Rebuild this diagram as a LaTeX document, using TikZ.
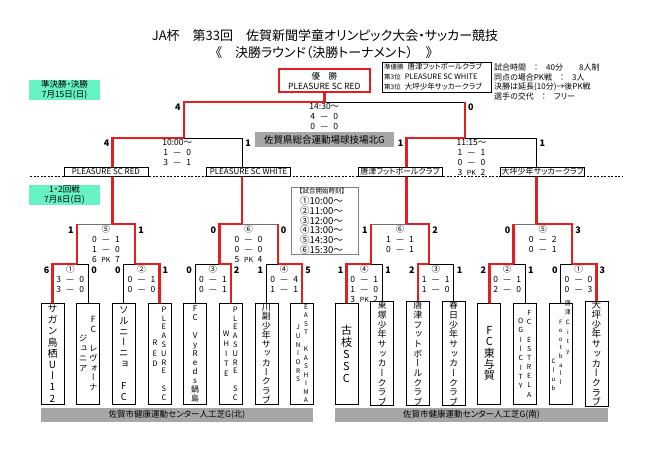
\documentclass[tikz,border=0pt]{standalone}
\usepackage{fontspec}
\setmainfont{Noto Sans CJK JP}[RawFeature=+palt]
\newfontfamily\tatefont{Noto Sans CJK JP}[RawFeature=+vert]

\definecolor{winred}{RGB}{226,30,30}
\definecolor{mint}{RGB}{102,242,196}
\definecolor{venuegray}{RGB}{166,166,166}

\newcommand\fsz[1]{\fontsize{#1}{#1}\selectfont}
\newcommand\mres[3]{\makebox[14pt]{#1}\makebox[9pt]{#2}\makebox[14pt]{#3}}
% one column of upright characters, fixed pitch
\makeatletter
\newcommand\tate[2][9]{$\vcenter{\tatefont\baselineskip=#1pt\lineskiplimit=-\maxdimen\lineskip=0pt
  \@tfor\tate@c:=#2\do{\hbox to 1.2em{\hss\tate@c\hss}}}$}
\makeatother

\begin{document}
\begin{tikzpicture}[x=1pt,y=-1pt,
    win/.style={winred,line width=2.4pt},
    lose/.style={black,line width=0.8pt},
    lose2/.style={black!55,line width=0.8pt},
    team/.style={draw,line width=0.8pt,minimum width=23pt,minimum height=101pt,inner sep=0pt},
    semi/.style={draw,fill=white,line width=0.8pt,minimum width=84pt,minimum height=9.5pt,inner sep=0pt,font=\fsz{8}},
    score/.style={anchor=north,align=center,inner sep=0pt,font=\fontsize{8.5}{10}\selectfont},
    lft/.style={anchor=east,inner sep=0pt,font=\bfseries\fsz{9}},
    rgt/.style={anchor=west,inner sep=0pt,font=\bfseries\fsz{9}},
    venuebar/.style={fill=venuegray,minimum height=14pt,inner sep=0pt,font=\fsz{8.5}},
    day/.style={fill=mint,minimum width=71pt,minimum height=20pt,inner sep=0pt,align=center,font=\fontsize{8.5}{10}\selectfont}]
    \useasboundingbox (0,0) rectangle (650,459);

    % headings
    \node[font=\fsz{13}] (title) at (325,36) {JA杯　第33回　佐賀新聞学童オリンピック大会・サッカー競技};
    \node[font=\fsz{13}] (subtitle) at (324,53) {《　決勝ラウンド（決勝トーナメント）　》};
    \node[draw,line width=0.8pt,minimum width=109pt,minimum height=30pt,inner sep=0pt] (info) at (436.5,77) {};
    \node[anchor=west,inner sep=0pt,font=\fsz{7.5}] (rank2) at (384,67) {{\fsz{6.5}準優勝}\hspace{4pt}唐津フットボールクラブ};
    \node[anchor=west,inner sep=0pt,font=\fsz{7.5}] (rank3a) at (384,77) {{\fsz{6.5}第3位}\hspace{4pt}PLEASURE SC WHITE};
    \node[anchor=west,inner sep=0pt,font=\fsz{7.5}] (rank3b) at (384,87) {{\fsz{6.5}第3位}\hspace{4pt}大坪少年サッカークラブ};
    \node[anchor=west,inner sep=0pt,font=\fsz{8}] (rule1) at (494,67) {試合時間　：　40分　　8人制};
    \node[anchor=west,inner sep=0pt,font=\fsz{8}] (rule2) at (494,77) {同点の場合PK戦　：　3人};
    \node[anchor=west,inner sep=0pt,font=\fsz{8}] (rule3) at (494,87) {決勝は延長(10分)→後PK戦};
    \node[anchor=west,inner sep=0pt,font=\fsz{8}] (rule4) at (494,96.5) {選手の交代　：　フリー};
    \node[day] (day1) at (64.5,90) {準決勝・決勝\\7月15日(日)};
    \node[day] (day2) at (64.5,195) {1・2回戦\\7月8日(日)};
    \node[draw=winred,line width=2pt,minimum width=91pt,minimum height=23pt,align=center,inner sep=0pt,
        font=\fontsize{8.5}{10}\selectfont] (champ) at (324.35,80.5) {優　勝\\PLEASURE SC RED};

    % venues and start times
    \node[venuebar,minimum width=139pt,minimum height=15pt,font=\fsz{9.5}] (vfinal) at (324.5,139.5) {佐賀県総合運動場球技場北G};
    \node[venuebar,minimum width=272pt] (vnorth) at (177,415) {佐賀市健康運動センター人工芝G(北)};
    \node[venuebar,minimum width=273pt] (vsouth) at (471.5,415) {佐賀市健康運動センター人工芝G(南)};
    \node[draw=black!50,line width=0.6pt,minimum width=67pt,minimum height=67pt,inner sep=0pt] (times) at (324.5,220.5) {};
    \node[font=\fsz{6.5},inner sep=0pt] (timeshd) at (322,191.5) {【試合開始時刻】};
    \foreach \n/\t [count=\k] in {①/10:00,②/11:00,③/12:00,④/13:00,⑤/14:30,⑥/15:30}
        \node[anchor=west,inner sep=0pt,font=\fsz{9.5}] (tm\k) at (300,191+9.8*\k) {\n\t～};

    \draw[dashed,dash pattern=on 2pt off 1.5pt,line width=0.6pt] (30,176.5) -- (622,176.5);

    % semifinal teams
    \node[semi] (s1) at (105.95,171.75) {PLEASURE SC RED};
    \node[semi] (s2) at (248.55,171.75) {PLEASURE SC WHITE};
    \node[semi] (s3) at (400.05,171.75) {唐津フットボールクラブ};
    \node[semi] (s4) at (542.85,171.75) {大坪少年サッカークラブ};

    % first round teams
    \node[team,font=\fsz{10}] (t1) at (52.5,353.5) {\tate[11.2]{サガン鳥栖Uー12}};
    \node[team,font=\fsz{8.5}] (t2) at (88.15,353.5) {\tate[10]{ジュニア}\tate[9.7]{FC~レヴォーナ}};
    \node[team,font=\fsz{9.5}] (t3) at (123.8,353.5) {\tate[10.9]{ソルニーニョ~FC}};
    \node[team,font=\fsz{7.5}] (t4) at (159.45,353.5) {\tate[10.5]{RED}\tate[8.8]{PLEASURE~SC}};
    \node[team,font=\fsz{8}] (t5) at (195.1,353.5) {\tate[9]{FC~VyReds鍋島}};
    \node[team,font=\fsz{7.5}] (t6) at (230.75,353.5) {\tate[10]{WHITE}\tate[8.8]{PLEASURE~SC}};
    \node[team,font=\fsz{9}] (t7) at (266.4,353.5) {\tate[9.3]{川副少年サッカークラブ}};
    \node[team,font=\fsz{6.5}] (t8) at (302.05,353.5) {\tate[8.7]{JUNIORS}\tate[8.5]{EAST~KASHIMA}};
    \node[team,font=\fsz{11}] (t9) at (346.5,353.5) {\tate[12]{古枝SSC}};
    \node[team,font=\fsz{9}] (t10) at (382.2,353.5) {\tate[9.7]{東塚少年サッカークラブ}};
    \node[team,font=\fsz{9}] (t11) at (417.9,353.5) {\tate[9.7]{唐津フットボールクラブ}};
    \node[team,font=\fsz{9}] (t12) at (453.6,353.5) {\tate[9.7]{春日少年サッカークラブ}};
    \node[team,font=\fsz{11}] (t13) at (489.3,353.5) {\tate[11.2]{FC東与賀}};
    \node[team,font=\fsz{7}] (t14) at (525,353.5) {\tate[9.3]{OGIーCITY}\tate[9.1]{FC~ESTRELA}};
    \node[team,font=\fsz{6}] (t15) at (560.7,353.5) {\smash{\raisebox{-23pt}{\tate[9]{Club}}\tate[8.6]{Football}\raisebox{24.5pt}{\tate[9.6]{唐津City}}}};
    \node[team,font=\fsz{9.5}] (t16) at (596.4,353.5) {\tate[9.7]{大坪少年サッカークラブ}};

    % bracket points
    \coordinate (a1) at (76.8,264);   \coordinate (a2) at (135.1,264);
    \coordinate (a3) at (219.4,264);  \coordinate (a4) at (277.7,264);
    \coordinate (a5) at (370.85,264); \coordinate (a6) at (429.25,264);
    \coordinate (a7) at (513.65,264); \coordinate (a8) at (572.05,264);
    \coordinate (b1) at (112.45,224); \coordinate (b2) at (242.05,224);
    \coordinate (b3) at (406.55,224); \coordinate (b4) at (536.35,224);
    \coordinate (c1) at (183.75,138); \coordinate (c2) at (464.95,138);
    \coordinate (d) at (324.35,102);

    % round 1
    \foreach \w/\l/\m in {1/2/a1,4/3/a2,6/5/a3,8/7/a4,9/10/a5,11/12/a6,13/14/a7,16/15/a8}{
        \draw[lose] (t\l.north) |- (\m);
        \draw[win] (t\w.north) |- (\m);
    }
    % round 2
    \foreach \w/\l/\m in {a2/a1/b1,a3/a4/b2,a6/a5/b3,a8/a7/b4}{
        \draw[lose2] (\l |- \m) -- (\m);
        \draw[win] (\l) -- (\l |- \m);
        \draw[win] (\w) |- (\m);
    }
    % semifinals
    \draw[win] (b1) -- (b1 |- s1.south);
    \draw[win] (b2) -- (b2 |- s2.south);
    \draw[win] (b3) -- (b3 |- s3.south);
    \draw[win] (b4) -- (b4 |- s4.south);
    \draw[lose] (b2 |- s2.north) |- (c1);
    \draw[win] (b1 |- s1.north) |- (c1);
    \draw[lose] (b4 |- s4.north) |- (c2);
    \draw[win] (b3 |- s3.north) |- (c2);
    % final
    \draw[lose] (c2 |- d) -- (d);
    \draw[win] (c2) -- (c2 |- d);
    \draw[win] (c1) |- (d) -- (champ.south);

    % results
    \node[score] (m1) at (70.3,265.5) {①\\\mres{3}{—}{0}\\\mres{3}{—}{0}};
    \node[score] (m2) at (141.6,265.5) {②\\\mres{0}{—}{1}\\\mres{0}{—}{0}};
    \node[score] (m3) at (212.9,265.5) {③\\\mres{0}{—}{1}\\\mres{0}{—}{1}};
    \node[score] (m4) at (284.2,265.5) {④\\\mres{0}{—}{4}\\\mres{1}{—}{1}};
    \node[score] (m5) at (364.35,265.5) {④\\\mres{0}{—}{1}\\\mres{1}{—}{0}\\\mres{3}{\fsz{7}PK}{2}};
    \node[score] (m6) at (435.75,265.5) {③\\\mres{1}{—}{1}\\\mres{1}{—}{0}};
    \node[score] (m7) at (507.15,265.5) {②\\\mres{0}{—}{1}\\\mres{2}{—}{0}};
    \node[score] (m8) at (578.55,265.5) {①\\\mres{0}{—}{0}\\\mres{0}{—}{3}};
    \node[score] (m9) at (105.95,225.5) {⑤\\\mres{0}{—}{1}\\\mres{1}{—}{0}\\\mres{6}{\fsz{7}PK}{7}};
    \node[score] (m10) at (248.55,225.5) {⑥\\\mres{0}{—}{0}\\\mres{0}{—}{0}\\\mres{5}{\fsz{7}PK}{4}};
    \node[score] (m11) at (400.05,225.5) {⑥\\\mres{1}{—}{1}\\\mres{0}{—}{1}};
    \node[score] (m12) at (542.85,225.5) {⑤\\\mres{0}{—}{2}\\\mres{0}{—}{1}};
    \node[score] (m13) at (177.25,139) {10:00～\\\mres{1}{—}{0}\\\mres{3}{—}{1}};
    \node[score] (m14) at (471.45,139) {11:15～\\\mres{1}{—}{1}\\\mres{0}{—}{0}\\\mres{3}{\fsz{7}PK}{2}};
    \node[score] (m15) at (324.35,103.5) {14:30～\\\mres{4}{—}{0}\\\mres{0}{—}{0}};

    % goals beside each line
    \foreach \x/\v [count=\k] in {52.5/6,123.8/0,195.1/0,266.4/1,346.5/1,417.9/2,489.3/2,560.7/0}
        \node[lft] (pl\k) at (\x-3,270) {\v};
    \foreach \x/\v [count=\k] in {88.15/0,159.45/1,230.75/2,302.05/5,382.2/1,453.6/1,525/1,596.4/3}
        \node[rgt] (pr\k) at (\x+3,270) {\v};
    \foreach \x/\v [count=\k] in {76.8/1,219.4/0,370.85/1,513.65/0}
        \node[lft] (ql\k) at (\x-3,230.5) {\v};
    \foreach \x/\v [count=\k] in {135.1/1,277.7/0,429.25/2,572.05/3}
        \node[rgt] (qr\k) at (\x+3,230.5) {\v};
    \node[lft] (sl1) at (109.45,143.5) {4};
    \node[rgt] (sr1) at (245.05,143.5) {1};
    \node[lft] (sl2) at (403.55,143.5) {1};
    \node[rgt] (sr2) at (539.35,143.5) {1};
    \node[lft] (fl) at (180.75,107) {4};
    \node[rgt] (fr) at (467.95,107) {0};
\end{tikzpicture}
\end{document}
